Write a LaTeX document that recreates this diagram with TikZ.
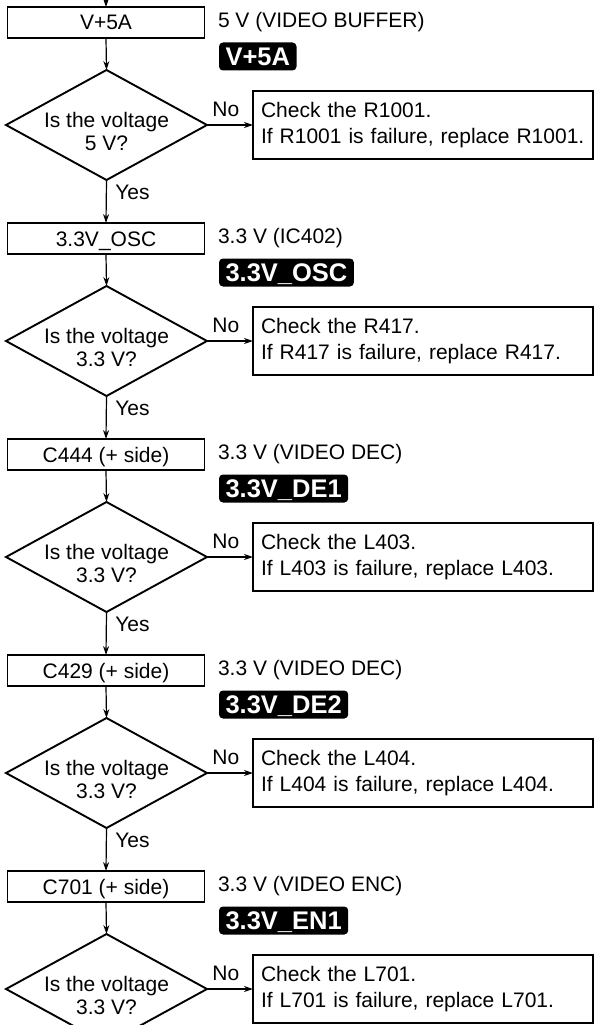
\documentclass[tikz,border=0pt]{standalone}
\usepackage{fontspec}
\setmainfont{Liberation Sans}
\usetikzlibrary{shapes.geometric,arrows.meta}
\begin{document}
\begin{tikzpicture}[x=1pt,y=-1pt,
  every node/.style={inner sep=0pt, outer sep=0pt},
  txt/.style={font=\fontsize{21}{26}\selectfont},
  srcbox/.style={draw, line width=1.9pt, minimum width=197pt, minimum height=31pt, txt, text height=15pt, text depth=0pt},
  dia/.style={draw, diamond, line width=1.9pt, minimum width=201pt, minimum height=110pt},
  diatext/.style={align=center, font=\fontsize{21}{23}\selectfont},
  fixbox/.style={draw, line width=1.9pt, minimum width=340pt, minimum height=68pt, inner xsep=8pt, text width=324pt, align=left, txt, anchor=west},
  badge/.style={fill=black, text=white, rounded corners=4pt, minimum height=28pt, inner xsep=6.5pt, text height=18.3pt, text depth=0pt, font=\fontsize{25.5}{28}\bfseries\selectfont, anchor=west},
  note/.style={txt, anchor=west},
  arr/.style={line width=1.2pt, -{Stealth[length=9pt,width=6pt]}},
]
\useasboundingbox (0,0) rectangle (594,1025);
\clip (0,0) rectangle (594,1025);

\foreach \i/\T/\src/\nt/\bd/\comp/\volt in {
  1/7/{V+5A}/{5 V (VIDEO BUFFER)}/{V+5A}/{R1001}/{5 V},
  2/223/{3.3V\_OSC}/{3.3 V (IC402)}/{3.3V\_OSC}/{R417}/{3.3 V},
  3/439/{C444 (+ side)}/{3.3 V (VIDEO DEC)}/{3.3V\_DE1}/{L403}/{3.3 V},
  4/655/{C429 (+ side)}/{3.3 V (VIDEO DEC)}/{3.3V\_DE2}/{L404}/{3.3 V},
  5/871/{C701 (+ side)}/{3.3 V (VIDEO ENC)}/{3.3V\_EN1}/{L701}/{3.3 V}}{
  \node[srcbox] (b\i) at (106,\T+15.5) {\src};
  \node[note] (n\i) at (218,\T+15.5) {\nt};
  \node[badge] (g\i) at (219,\T+49.5) {\bd};
  \node[dia] (d\i) at (106.5,\T+118) {};
  \node[diatext] (q\i) at (106.5,\T+124) {Is the voltage\\\volt?};
  \node[fixbox] (r\i) at (253,\T+118) {Check the \comp.\\If \comp\ is failure, replace \comp.};
  \draw[arr] (b\i.south) -- (d\i.north);
  \draw[arr] (d\i.east) -- (r\i.west)
    node[txt, pos=0.41, anchor=south, yshift=8pt] {No};
}

\foreach \i [evaluate=\i as \j using int(\i+1)] in {1,...,4}{
  \draw[arr] (d\i.south) -- (b\j.north)
    node[txt, pos=0.29, anchor=west, xshift=9pt] {Yes};
}

\coordinate (top) at (106,-12);
\draw[arr] (top) -- (b1.north);
\end{tikzpicture}
\end{document}
